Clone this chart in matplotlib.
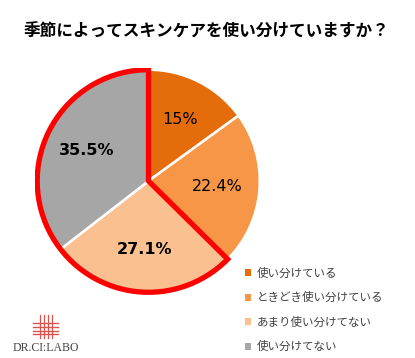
import matplotlib
matplotlib.use("Agg")
import matplotlib.pyplot as plt
from matplotlib.patches import Wedge
from matplotlib.lines import Line2D

plt.rcParams['font.family'] = ['Noto Sans CJK JP', 'DejaVu Sans']

title = "季節によってスキンケアを使い分けていますか？"
categories = ["使い分けている", "ときどき使い分けている", "あまり使い分けてない", "使い分けてない"]
values = [15.0, 22.4, 27.1, 35.5]
pct_labels = ["15%", "22.4%", "27.1%", "35.5%"]
bold_labels = [False, False, True, True]
highlight = [False, False, True, True]
colors = ["#E46C0A", "#F79646", "#FAC090", "#A6A6A6"]

W, H = 415, 358
fig = plt.figure(figsize=(W / 100, H / 100), dpi=100)

cx, cy, r = 148.5, 181, 113.5
ax = fig.add_axes([(cx - r) / W, (H - cy - r) / H, 2 * r / W, 2 * r / H])
wedges, texts = ax.pie(values, colors=colors, startangle=90, counterclock=False,
                       labels=pct_labels, labeldistance=0.62,
                       wedgeprops=dict(edgecolor="white", linewidth=1.8))
for t, b in zip(texts, bold_labels):
    t.set_ha("center")
    t.set_va("center")
    t.set_fontsize(11.5)
    t.set_color("black")
    t.set_family(["DejaVu Sans"])
    if b:
        t.set_fontweight("bold")

# red outline around highlighted slices
total = sum(values)
start = sum(v for v, h in zip(values, highlight) if not h)
hl = sum(v for v, h in zip(values, highlight) if h)
theta_end = 90 - 360 * start / total
theta_start = theta_end - 360 * hl / total
ax.add_patch(Wedge((0, 0), 1.0, theta_start, theta_end, fill=False,
                   edgecolor="#FF0000", linewidth=3.8, joinstyle="miter"))
ax.set_xlim(-1.02, 1.02)
ax.set_ylim(-1.02, 1.02)
ax.set_aspect("equal")
ax.axis("off")

fig.text(206 / W, 1 - 32 / H, title, ha="center", va="center",
         fontsize=12, fontweight="bold", color="black")

leg = fig.legend(wedges, categories, loc="upper left",
                 bbox_to_anchor=(239 / W, 1 - 261 / H), frameon=False,
                 fontsize=8.3, handlelength=0.55, handleheight=0.55,
                 handletextpad=0.45, labelspacing=1.0, borderpad=0)
for t in leg.get_texts():
    t.set_color("#404040")
for p in leg.get_patches():
    p.set_edgecolor("none")

# logo
red = "#D9534F"
for yy in [323, 327, 331, 334]:
    fig.add_artist(Line2D([33 / W, 58 / W], [1 - yy / H, 1 - yy / H], color=red, lw=1.0))
for xx in [40, 44, 48, 52]:
    fig.add_artist(Line2D([xx / W, xx / W], [1 - 315 / H, 1 - 338 / H], color=red, lw=0.9))
fig.text(46 / W, 1 - 348 / H, "DR.CI:LABO", ha="center", va="center",
         fontsize=8.5, color="#444444", family=["Liberation Serif"])

fig.savefig("out.png", dpi=100, facecolor="white")
